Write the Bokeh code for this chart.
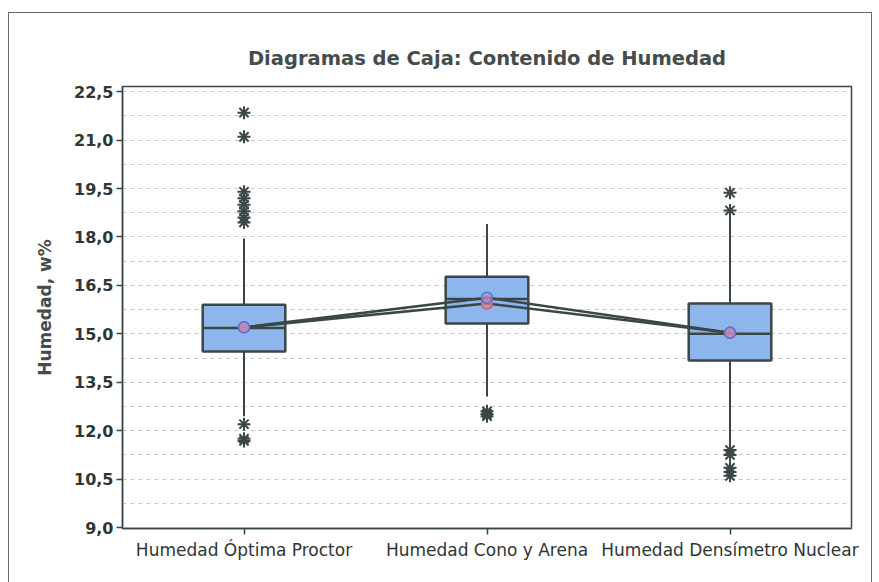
from bokeh.plotting import figure
from bokeh.models import FactorRange, Range1d, FixedTicker
from bokeh.embed import file_html
from bokeh.resources import INLINE

# ---- data ----
categories = ["Humedad Óptima Proctor", "Humedad Cono y Arena", "Humedad Densímetro Nuclear"]
q1 = [14.45, 15.32, 14.17]
q3 = [15.90, 16.77, 15.94]
medians = [15.18, 16.08, 15.00]
whisker_low = [12.45, 13.06, 11.55]
whisker_high = [17.95, 18.40, 18.70]
means_a = [15.20, 16.12, 15.03]
means_b = [15.20, 15.94, 15.03]
outliers_1 = [21.85, 21.10, 19.40, 19.20, 19.00, 18.80, 18.60, 18.45, 12.20, 11.75, 11.68]
outliers_2 = [12.60, 12.52, 12.45]
outliers_3 = [19.37, 18.82, 11.40, 11.25, 10.85, 10.72, 10.60]
y_ticks = [9.0, 10.5, 12.0, 13.5, 15.0, 16.5, 18.0, 19.5, 21.0, 22.5]
y_tick_labels = ["9,0", "10,5", "12,0", "13,5", "15,0", "16,5", "18,0", "19,5", "21,0", "22,5"]
grid_lines = [9.0 + 0.75 * i for i in range(19)]
title_text = "Diagramas de Caja: Contenido de Humedad"
y_label = "Humedad, w%"

dark = "#3b4747"
font = "DejaVu Sans"

p = figure(width=864, height=575, x_range=FactorRange(factors=categories),
           y_range=Range1d(8.97, 22.66), output_backend="svg",
           toolbar_location=None, min_border_left=113, min_border_right=22,
           min_border_top=73, min_border_bottom=60, title=title_text)
p.styles = {"border": "1.5px solid #6a6a6a", "margin": "12px 0px 0px 8px"}

p.title.align = "center"
p.title.text_font = font
p.title.text_font_size = "19.5px"
p.title.text_font_style = "bold"
p.title.text_color = "#454c4c"
p.title.standoff = 34

p.outline_line_color = dark
p.outline_line_width = 1.5

# grid
p.xgrid.grid_line_color = None
p.ygrid.ticker = FixedTicker(ticks=grid_lines)
p.ygrid.grid_line_color = "#c4c8c8"
p.ygrid.grid_line_dash = "4 4"
p.ygrid.grid_line_width = 1

# axes
p.yaxis.ticker = FixedTicker(ticks=y_ticks)
p.yaxis.major_label_overrides = {t: l for t, l in zip(y_ticks, y_tick_labels)}
p.yaxis.axis_label = y_label
p.yaxis.axis_label_text_font = font
p.yaxis.axis_label_text_font_size = "17px"
p.yaxis.axis_label_text_font_style = "bold"
p.yaxis.axis_label_text_color = "#454c4c"
p.yaxis.axis_label_standoff = 16
for ax in (p.xaxis[0], p.yaxis[0]):
    ax.axis_line_color = dark
    ax.axis_line_width = 1.5
    ax.major_tick_line_color = dark
    ax.major_tick_line_width = 1.5
    ax.major_tick_out = 6
    ax.major_tick_in = 0
    ax.minor_tick_line_color = None
    ax.major_label_text_font = font
    ax.major_label_text_color = "#2e3636"
p.yaxis.major_label_text_font_size = "16px"
p.yaxis.major_label_text_font_style = "bold"
p.xaxis.major_label_text_font_size = "17px"
p.yaxis.major_label_standoff = 3
p.xaxis.major_label_standoff = 5

# whiskers
p.segment(x0=categories, y0=q3, x1=categories, y1=whisker_high, line_color=dark, line_width=2)
p.segment(x0=categories, y0=q1, x1=categories, y1=whisker_low, line_color=dark, line_width=2)

# boxes
p.vbar(x=categories, width=0.34, top=q3, bottom=q1, fill_color="#8db6ec",
       line_color=dark, line_width=2.5)

# medians
p.vbar(x=categories, width=0.34, top=medians, bottom=medians, fill_color=None,
       line_color=dark, line_width=2.5)

# connect lines
p.line(x=categories, y=means_a, line_color=dark, line_width=2.5)
p.line(x=categories, y=means_b, line_color=dark, line_width=2.5)

# mean symbols
p.scatter(x=categories, y=means_b, marker="circle", size=11, fill_color="#c78ab0",
          fill_alpha=0.8, line_color="#d06060", line_width=1.5)
p.scatter(x=categories, y=means_a, marker="circle", size=11, fill_color="#b98cc0",
          fill_alpha=0.6, line_color="#5a6fd0", line_width=1.5)

# outliers
out_x = [categories[0]] * len(outliers_1) + [categories[1]] * len(outliers_2) + [categories[2]] * len(outliers_3)
out_y = outliers_1 + outliers_2 + outliers_3
p.scatter(x=out_x, y=out_y, marker="asterisk", size=13, line_color=dark, line_width=2)

open("out.html", "w").write(file_html(p, INLINE))
